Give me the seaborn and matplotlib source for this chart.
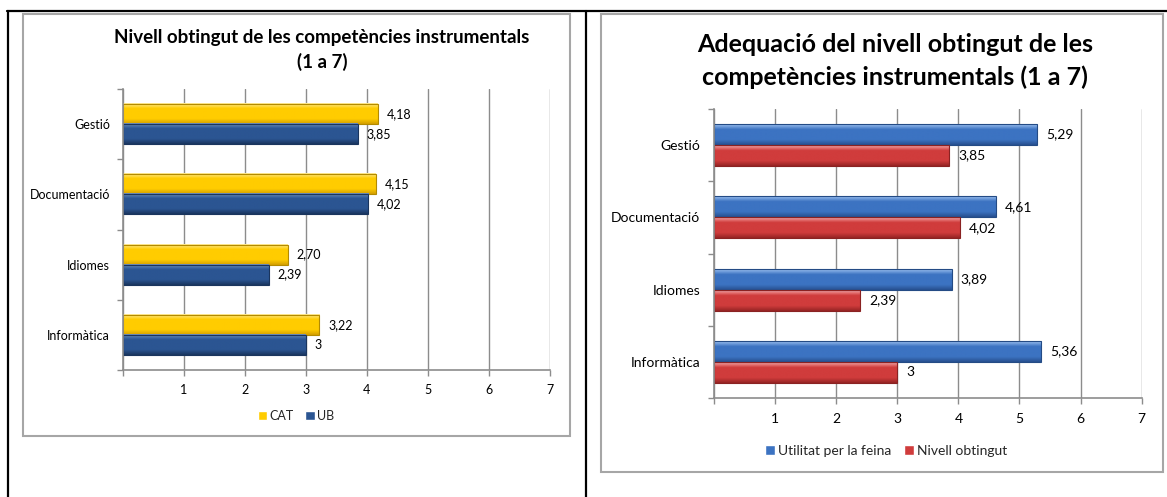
import numpy as np
import pandas as pd
import matplotlib
matplotlib.use("Agg")
import matplotlib.pyplot as plt
import seaborn as sns
from matplotlib.colors import LinearSegmentedColormap
from matplotlib.patches import Rectangle
from matplotlib.lines import Line2D

# --- data ---
categories = ["Gestió", "Documentació", "Idiomes", "Informàtica"]

left_title = ["Nivell obtingut de les competències instrumentals", "(1 a 7)"]
left_series = ["CAT", "UB"]
cat_values = [4.18, 4.15, 2.70, 3.22]
ub_values = [3.85, 4.02, 2.39, 3.00]

right_title = ["Adequació del nivell obtingut de les", "competències instrumentals (1 a 7)"]
right_series = ["Utilitat per la feina", "Nivell obtingut"]
utilitat_values = [5.29, 4.61, 3.89, 5.36]
nivell_values = [3.85, 4.02, 2.39, 3.00]

x_ticks = [1, 2, 3, 4, 5, 6, 7]

# bar looks: (highlight, body, shadow, edge)
yellow = ("#FFEC99", "#FFCC00", "#D49F00", "#B38A00")
navy = ("#6A90C8", "#2B5592", "#1A365F", "#1A355E")
blue = ("#9CC0F0", "#3C73C2", "#27508F", "#244B85")
red = ("#F7A8A8", "#D03C3C", "#952424", "#8A2222")

W, H = 1167, 497
GRID = "#8C8C8C"

sns.set_style("white")
plt.rcParams["font.family"] = ["Lato", "DejaVu Sans"]


def fig_rect(x0, y0, x1, y1):
    """pixel box (top-left origin) -> figure fraction rect"""
    return [x0 / W, 1 - y1 / H, (x1 - x0) / W, (y1 - y0) / H]


def fmt_value(v):
    if float(v).is_integer():
        return str(int(v))
    return f"{v:.2f}".replace(".", ",")


def shade_bars(ax, styles):
    """Excel-like bevel: vertical gradient inside each bar"""
    for container, (light, base, dark, edge) in zip(ax.containers, styles):
        cmap = LinearSegmentedColormap.from_list(
            "bevel", [(0, light), (0.25, base), (0.75, base), (1, dark)])
        grad = np.linspace(0, 1, 64).reshape(-1, 1)
        for bar in container:
            x0, y0 = bar.get_x(), bar.get_y()
            w, h = bar.get_width(), bar.get_height()
            ax.imshow(grad, extent=(x0, x0 + w, y0 + h, y0), origin="upper",
                      aspect="auto", cmap=cmap, zorder=2.4,
                      interpolation="bilinear")
            bar.set_facecolor("none")
            bar.set_edgecolor(edge)
            bar.set_linewidth(0.8)
            bar.set_zorder(2.5)


def draw_chart(fig, ax_rect, series, values_a, values_b, styles, width,
               fs, xpad, ypad, legend_xy, title_lines, title_xy, title_fs):
    df = pd.DataFrame({
        "categoria": categories * 2,
        "serie": [series[0]] * len(categories) + [series[1]] * len(categories),
        "valor": list(values_a) + list(values_b),
    })
    ax = fig.add_axes(fig_rect(*ax_rect))
    ax.set_facecolor("none")
    sns.barplot(data=df, x="valor", y="categoria", hue="serie", orient="h",
                hue_order=series, order=categories,
                palette=[s[1] for s in styles], saturation=1,
                width=width, errorbar=None, ax=ax)

    for container in ax.containers:
        ax.bar_label(container, labels=[fmt_value(v) for v in container.datavalues],
                     padding=6.5, fontsize=fs, color="black")
    shade_bars(ax, styles)

    ax.set_xlim(0, 7.005)
    ax.set_ylim(len(categories) - 0.5, -0.5)
    ax.set_xticks([0] + x_ticks, [""] + [str(t) for t in x_ticks])
    ax.set_yticks(np.arange(-0.5, len(categories), 1), minor=True)
    ax.grid(axis="x", color=GRID, lw=1)
    ax.grid(axis="y", visible=False)
    ax.set_axisbelow(True)
    ax.set_xlabel("")
    ax.set_ylabel("")
    ax.tick_params(axis="x", length=4, width=1, color=GRID, pad=xpad,
                   labelsize=fs, labelcolor="black", bottom=True)
    ax.tick_params(axis="y", which="major", length=0, pad=ypad,
                   labelsize=fs, labelcolor="black")
    ax.tick_params(axis="y", which="minor", length=4, width=1, color=GRID,
                   left=True)
    sns.despine(ax=ax, top=True, right=True)
    for side in ("left", "bottom"):
        ax.spines[side].set_color(GRID)
        ax.spines[side].set_linewidth(1.2)

    sns.move_legend(ax, "center", bbox_to_anchor=(legend_xy[0] / W, 1 - legend_xy[1] / H),
                    bbox_transform=fig.transFigure, ncol=2, frameon=False,
                    title=None, fontsize=fs, handlelength=0.75,
                    handleheight=0.75, handletextpad=0.2, columnspacing=0.9)

    for line, y in zip(title_lines, title_xy[1]):
        fig.text(title_xy[0] / W, 1 - y / H, line, ha="center", va="center",
                 fontsize=title_fs, fontweight="bold", color="black")
    return ax


fig = plt.figure(figsize=(W / 100, H / 100), dpi=100)
fig.patch.set_facecolor("white")

# chart frames (grey)
for x0, y0, x1, y1 in [(23, 14, 570, 436), (601, 14, 1163, 472)]:
    fig.add_artist(Rectangle((x0 / W, 1 - y1 / H), (x1 - x0) / W, (y1 - y0) / H,
                             transform=fig.transFigure, fill=False,
                             edgecolor="#A6A6A6", lw=1.5))

# document table lines (black)
for xs, ys in [((7, W), (11, 11)), ((8, 8), (11, H)), ((586, 586), (11, H))]:
    fig.add_artist(Line2D([x / W for x in xs], [1 - y / H for y in ys],
                          transform=fig.transFigure, color="black", lw=1.6))

draw_chart(fig, (123, 89, 550, 370), left_series, cat_values, ub_values,
           [yellow, navy], 0.57, fs=9, xpad=5.8, ypad=9.4,
           legend_xy=(296, 416), title_lines=left_title,
           title_xy=(322, (38, 62)), title_fs=13.5)

draw_chart(fig, (714, 109, 1142, 398), right_series, utilitat_values, nivell_values,
           [blue, red], 0.58, fs=10, xpad=7, ypad=10,
           legend_xy=(886, 451), title_lines=right_title,
           title_xy=(895, (44, 77)), title_fs=18)

fig.savefig("out.png", dpi=100, facecolor="white")
